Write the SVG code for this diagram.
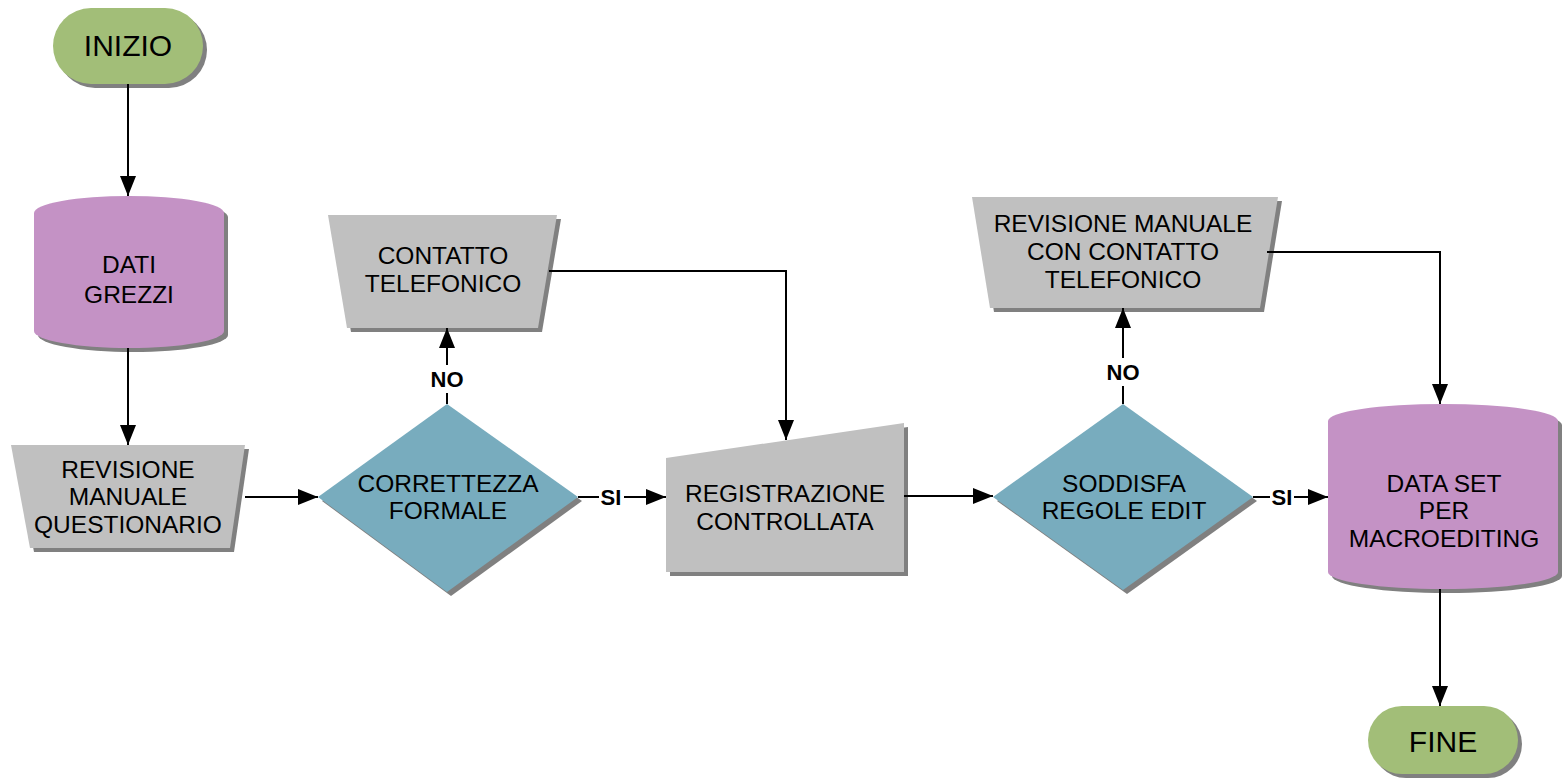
<svg xmlns="http://www.w3.org/2000/svg" width="1562" height="781" viewBox="0 0 1562 781">
<defs>
<style>
.sh{fill:#808080}
.term{fill:#A2BE78}
.db{fill:#C492C5}
.dec{fill:#78ACBE}
.proc{fill:#C0C0C0}
.t{font-family:"Liberation Sans",Arial,sans-serif;font-size:24.5px;fill:#000;text-anchor:middle}
.tl{font-family:"Liberation Sans",Arial,sans-serif;font-size:30px;fill:#000;text-anchor:middle}
.lb{font-family:"Liberation Sans",Arial,sans-serif;font-size:22px;font-weight:bold;fill:#000;text-anchor:middle}
.c{fill:none;stroke:#000;stroke-width:2}
</style>
<marker id="ah" markerUnits="userSpaceOnUse" markerWidth="22" markerHeight="16" refX="20" refY="8" orient="auto">
<path d="M0,0 L20,8 L0,16 Z" fill="#000"/>
</marker>
</defs>
<rect width="1562" height="781" fill="#fff"/>

<g id="inizio">
<rect class="sh" x="57" y="12" width="150" height="76" rx="38"/>
<rect class="term" x="53" y="8" width="150" height="76" rx="38"/>
<text class="tl" x="128" y="56">INIZIO</text>
</g>

<g id="dati-grezzi">
<path class="sh" d="M38,217 A95,17 0 0 1 228,217 L228,335 A95,17 0 0 1 38,335 Z"/>
<path class="db" d="M34,213 A95,17 0 0 1 224,213 L224,331 A95,17 0 0 1 34,331 Z"/>
<text class="t" x="129" y="273">DATI</text>
<text class="t" x="129" y="303">GREZZI</text>
</g>

<g id="revisione-manuale-questionario">
<path class="sh" d="M15,449 L249,449 L234,552 L34,552 Z"/>
<path class="proc" d="M11,445 L245,445 L230,548 L30,548 Z"/>
<text class="t" x="128" y="478">REVISIONE</text>
<text class="t" x="128" y="505">MANUALE</text>
<text class="t" x="128" y="533">QUESTIONARIO</text>
</g>

<g id="correttezza-formale">
<path class="sh" d="M451,408 L582,501 L451,596 L322,501 Z"/>
<path class="dec" d="M447,404 L578,497 L447,592 L318,497 Z"/>
<text class="t" x="448" y="492">CORRETTEZZA</text>
<text class="t" x="448" y="519">FORMALE</text>
</g>

<g id="contatto-telefonico">
<path class="sh" d="M332,219 L561,219 L542,332 L351,332 Z"/>
<path class="proc" d="M328,215 L557,215 L538,328 L347,328 Z"/>
<text class="t" x="443" y="264">CONTATTO</text>
<text class="t" x="443" y="292">TELEFONICO</text>
</g>

<g id="registrazione-controllata">
<path class="sh" d="M670,462 L908,427 L908,576 L670,576 Z"/>
<path class="proc" d="M666,458 L904,423 L904,572 L666,572 Z"/>
<text class="t" x="785" y="502">REGISTRAZIONE</text>
<text class="t" x="785" y="530">CONTROLLATA</text>
</g>

<g id="soddisfa-regole-edit">
<path class="sh" d="M1127,408 L1257,501 L1127,594 L997,501 Z"/>
<path class="dec" d="M1123,404 L1253,497 L1123,590 L993,497 Z"/>
<text class="t" x="1124" y="492">SODDISFA</text>
<text class="t" x="1124" y="519">REGOLE EDIT</text>
</g>

<g id="revisione-manuale-contatto">
<path class="sh" d="M976,201 L1282,201 L1264,312 L994,312 Z"/>
<path class="proc" d="M972,197 L1278,197 L1260,308 L990,308 Z"/>
<text class="t" x="1123" y="232">REVISIONE MANUALE</text>
<text class="t" x="1123" y="260">CON CONTATTO</text>
<text class="t" x="1123" y="288">TELEFONICO</text>
</g>

<g id="data-set-macroediting">
<path class="sh" d="M1332,425 A115,17 0 0 1 1562,425 L1562,576 A115,17 0 0 1 1332,576 Z"/>
<path class="db" d="M1328,421 A115,17 0 0 1 1558,421 L1558,572 A115,17 0 0 1 1328,572 Z"/>
<text class="t" x="1444" y="492">DATA SET</text>
<text class="t" x="1444" y="519">PER</text>
<text class="t" x="1444" y="547">MACROEDITING</text>
</g>

<g id="fine">
<rect class="sh" x="1372" y="710" width="150" height="68" rx="34"/>
<rect class="term" x="1368" y="706" width="150" height="68" rx="34"/>
<text class="tl" x="1443" y="752">FINE</text>
</g>

<g id="connectors">
<path class="c" d="M128,84 L128,196" marker-end="url(#ah)"/>
<path class="c" d="M128,348 L128,445" marker-end="url(#ah)"/>
<path class="c" d="M245,497 L318,497" marker-end="url(#ah)"/>
<path class="c" d="M447,404 L447,393"/>
<path class="c" d="M447,365 L447,328" marker-end="url(#ah)"/>
<text class="lb" x="447" y="387">NO</text>
<path class="c" d="M578,497 L599,497"/>
<path class="c" d="M624,497 L666,497" marker-end="url(#ah)"/>
<text class="lb" x="611" y="505">SI</text>
<path class="c" d="M549,271 L786,271 L786,440" marker-end="url(#ah)"/>
<path class="c" d="M904,496 L993,496" marker-end="url(#ah)"/>
<path class="c" d="M1123,404 L1123,386"/>
<path class="c" d="M1123,358 L1123,308" marker-end="url(#ah)"/>
<text class="lb" x="1123" y="380">NO</text>
<path class="c" d="M1253,497 L1270,497"/>
<path class="c" d="M1294,497 L1328,497" marker-end="url(#ah)"/>
<text class="lb" x="1282" y="505">SI</text>
<path class="c" d="M1267,252 L1440,252 L1440,404" marker-end="url(#ah)"/>
<path class="c" d="M1440,589 L1440,706" marker-end="url(#ah)"/>
</g>
</svg>
